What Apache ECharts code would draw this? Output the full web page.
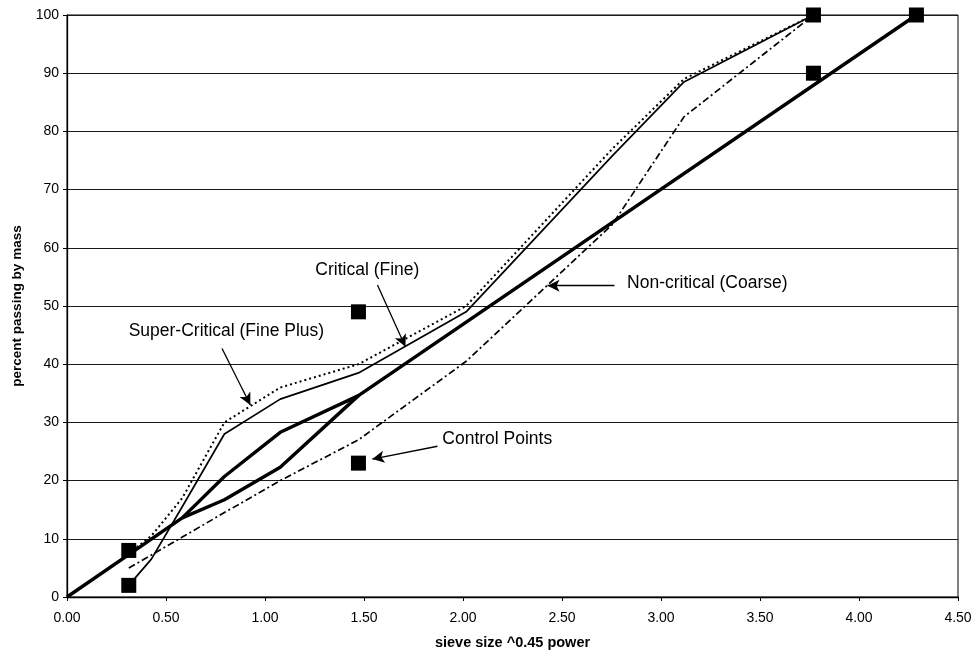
<!DOCTYPE html>
<html>
<head>
<meta charset="utf-8">
<title>Gradation chart</title>
<script src="https://cdn.jsdelivr.net/npm/echarts@6/dist/echarts.min.js"></script>
<style>
  html, body { margin: 0; padding: 0; background: #fff; }
  #chart { width: 977px; height: 657px; }
</style>
</head>
<body>
<div id="chart"></div>
<script>
// sieve sizes raised to the 0.45 power (0.075 … 19 mm)
const sieveX = [0.312, 0.426, 0.582, 0.795, 1.077, 1.472, 2.016, 2.754, 3.116, 3.77];

// gradations, percent passing at each sieve
const superCritical = [7.5, 10.5, 17, 30, 36, 40, 50, 77, 89, 100];
const critical      = [2, 6.5, 15.5, 28, 34, 38.5, 49, 75.8, 88.5, 100];
const nonCritical   = [5, 7.2, 10.3, 14.5, 20, 27, 40.5, 64, 82.5, 100];

// maximum density line, with the restricted zone bulge
const maxDenX = [0, 0.582, 0.795, 1.077, 1.472, 4.29];
const maxDenY = [0, 13.6, 20.7, 28.3, 34.6, 100];
const zoneLowX = [0.582, 0.795, 1.077, 1.472];
const zoneLowY = [13.6, 16.7, 22.3, 34.6];

// control points
const ctrlX = [0.312, 0.312, 1.472, 1.472, 3.77, 3.77, 4.29];
const ctrlY = [2, 8, 23, 49, 90, 100, 100];

// axis ticks
const xTicks = { min: 0, max: 4.5, step: 0.5 };
const yTicks = { min: 0, max: 100, step: 10 };

// call-out labels and their arrows (data coordinates)
const noteText = ['Critical (Fine)', 'Super-Critical (Fine Plus)', 'Control Points', 'Non-critical (Coarse)'];
const notePos  = [[1.517, 56.1], [0.805, 45.6], [2.173, 27.1], [3.234, 53.9]];
const arrowFrom = [[1.568, 53.6], [0.783, 42.7], [1.871, 25.9], [2.765, 53.5]];
const arrowTo   = [[1.709, 43.0], [0.926, 33.0], [1.542, 23.7], [2.427, 53.5]];

const FONT = '"Liberation Sans", Arial, sans-serif';
const INK = '#000';

const pairs = (xs, ys) => xs.map((x, i) => [x, ys[i]]);

const chart = echarts.init(document.getElementById('chart'), null, { renderer: 'canvas' });

chart.setOption({
  animation: false,
  backgroundColor: '#fff',
  textStyle: { fontFamily: FONT, color: INK },
  grid: { left: 67, right: 19, top: 15, bottom: 60, show: true, borderColor: INK, borderWidth: 1 },
  xAxis: {
    type: 'value', min: xTicks.min, max: xTicks.max, interval: xTicks.step,
    name: 'sieve size ^0.45 power', nameLocation: 'middle', nameGap: 38,
    nameTextStyle: { fontFamily: FONT, fontWeight: 'bold', fontSize: 14.5, color: INK },
    axisLine: { lineStyle: { color: INK, width: 1.3 } },
    axisTick: { show: true, length: 4, lineStyle: { color: INK } },
    axisLabel: { color: INK, fontSize: 14, fontFamily: FONT, margin: 14, formatter: (v) => v.toFixed(2) },
    splitLine: { show: false },
  },
  yAxis: {
    type: 'value', min: yTicks.min, max: yTicks.max, interval: yTicks.step,
    name: 'percent passing by mass', nameLocation: 'middle', nameGap: 43,
    nameTextStyle: { fontFamily: FONT, fontWeight: 'bold', fontSize: 13.5, color: INK },
    axisLine: { show: true, lineStyle: { color: INK, width: 1.3 } },
    axisTick: { show: true, length: 4, lineStyle: { color: INK } },
    axisLabel: { color: INK, fontSize: 14, fontFamily: FONT, margin: 8 },
    splitLine: { show: true, lineStyle: { color: '#1a1a1a', width: 1.2 } },
  },
  series: [
    {
      name: 'Maximum density line', type: 'line', data: pairs(maxDenX, maxDenY),
      symbol: 'none', lineStyle: { color: INK, width: 3.4 }, z: 3,
    },
    {
      name: 'Restricted zone', type: 'line', data: pairs(zoneLowX, zoneLowY),
      symbol: 'none', lineStyle: { color: INK, width: 3.4 }, z: 3,
    },
    {
      name: 'Super-Critical (Fine Plus)', type: 'line', data: pairs(sieveX, superCritical),
      symbol: 'none', lineStyle: { color: INK, width: 2, type: [2, 3] }, z: 3,
    },
    {
      name: 'Critical (Fine)', type: 'line', data: pairs(sieveX, critical),
      symbol: 'none', lineStyle: { color: INK, width: 1.7 }, z: 3,
    },
    {
      name: 'Non-critical (Coarse)', type: 'line', data: pairs(sieveX, nonCritical),
      symbol: 'none', lineStyle: { color: INK, width: 1.7, type: [7, 3, 2, 3] }, z: 3,
    },
    {
      name: 'Control Points', type: 'scatter', data: pairs(ctrlX, ctrlY),
      symbol: 'rect', symbolSize: 15, itemStyle: { color: INK, opacity: 1 }, z: 5,
    },
    {
      name: 'notes', type: 'scatter', symbolSize: 0, silent: true, z: 6,
      itemStyle: { color: INK, opacity: 1 },
      data: notePos.map((p, i) => [p[0], p[1], noteText[i]]),
      label: {
        show: true, position: 'inside', formatter: (p) => p.value[2],
        fontFamily: FONT, fontSize: 17.5, color: INK, opacity: 1,
      },
      markLine: {
        silent: true, animation: false,
        symbol: ['none', 'arrow'], symbolSize: [9, 12],
        lineStyle: { color: INK, width: 1.3, type: 'solid', opacity: 1 },
        label: { show: false },
        data: arrowFrom.map((f, i) => [{ coord: f }, { coord: arrowTo[i] }]),
      },
    },
  ],
});
window.addEventListener('resize', () => chart.resize());
</script>
</body>
</html>
